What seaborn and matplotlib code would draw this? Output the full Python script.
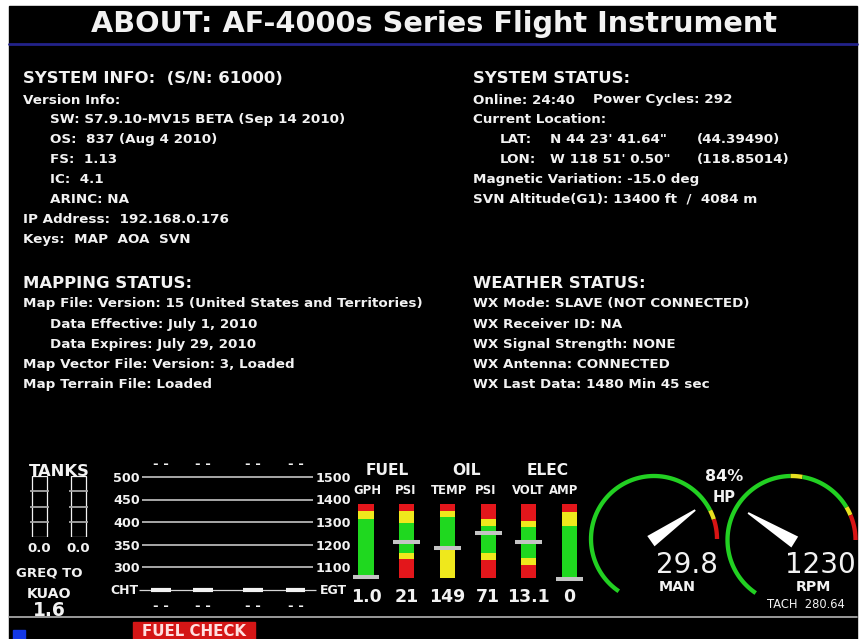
import matplotlib
matplotlib.use("Agg")
import numpy as np
import pandas as pd
import matplotlib.pyplot as plt
import seaborn as sns
from matplotlib.patches import Rectangle, Polygon

# ---------------------------------------------------------------- data
title_text = "ABOUT: AF-4000s Series Flight Instrument"

sys_info_header = "SYSTEM INFO:  (S/N: 61000)"
sys_info_lines = ["Version Info:", "SW: S7.9.10-MV15 BETA (Sep 14 2010)",
                  "OS:  837 (Aug 4 2010)", "FS:  1.13", "IC:  4.1", "ARINC: NA",
                  "IP Address:  192.168.0.176", "Keys:  MAP  AOA  SVN"]
sys_info_indent = [0, 1, 1, 1, 1, 1, 0, 0]

status_header = "SYSTEM STATUS:"
online_text = "Online: 24:40"
power_text = "Power Cycles: 292"
location_text = "Current Location:"
lat_parts = ["LAT:", "N 44 23' 41.64\"", "(44.39490)"]
lon_parts = ["LON:", "W 118 51' 0.50\"", "(118.85014)"]
status_tail = ["Magnetic Variation: -15.0 deg", "SVN Altitude(G1): 13400 ft  /  4084 m"]

mapping_header = "MAPPING STATUS:"
mapping_lines = ["Map File: Version: 15 (United States and Territories)",
                 "Data Effective: July 1, 2010", "Data Expires: July 29, 2010",
                 "Map Vector File: Version: 3, Loaded", "Map Terrain File: Loaded"]
mapping_indent = [0, 1, 1, 0, 0]

weather_header = "WEATHER STATUS:"
weather_lines = ["WX Mode: SLAVE (NOT CONNECTED)", "WX Receiver ID: NA",
                 "WX Signal Strength: NONE", "WX Antenna: CONNECTED",
                 "WX Last Data: 1480 Min 45 sec"]

# tanks
tank_ids = ["L", "R"]
tank_values = [0.0, 0.0]
tank_capacity = 1.0
tank_marks = [0.25, 0.5, 0.75]

# CHT / EGT
cht_ticks = [300, 350, 400, 450, 500]
egt_ticks = [1100, 1200, 1300, 1400, 1500]
cht_floor = 250
cht_readings = ["- -", "- -", "- -", "- -"]
egt_readings = ["- -", "- -", "- -", "- -"]

# bar gauges (zone edges in % of bar, zone kinds G/Y/R)
gauge_ids = ["GPH", "FPSI", "OTEMP", "OPSI", "VOLT", "AMP"]
gauge_labels = ["GPH", "PSI", "TEMP", "PSI", "VOLT", "AMP"]
gauge_readouts = ["1.0", "21", "149", "71", "13.1", "0"]
zone_edges_gph = [0, 80, 90, 100]
zone_kinds_gph = ["G", "Y", "R"]
zone_edges_fpsi = [0, 26, 34, 74, 90, 100]
zone_kinds_fpsi = ["R", "Y", "G", "Y", "R"]
zone_edges_otemp = [0, 42, 82, 90, 100]
zone_kinds_otemp = ["Y", "G", "Y", "R"]
zone_edges_opsi = [0, 24, 34, 70, 80, 100]
zone_kinds_opsi = ["R", "Y", "G", "Y", "R"]
zone_edges_volt = [0, 18, 27, 69, 77, 100]
zone_kinds_volt = ["R", "Y", "G", "Y", "R"]
zone_edges_amp = [0, 70, 89, 100]
zone_kinds_amp = ["G", "Y", "R"]
pointer_pos = [1, 49, 40.5, 61, 49, -1]

# dial gauges
man_range = (0, 35)
man_value = 29.8
man_zone_edges = [0, 31, 32.3, 35]
man_zone_kinds = ["G", "Y", "R"]
rpm_range = (0, 3300)
rpm_value = 1230
rpm_zone_edges = [0, 2030, 2180, 2870, 2980, 3300]
rpm_zone_kinds = ["G", "Y", "G", "Y", "R"]
hp_text = "84%"
tach_text = "TACH  280.64"

# ---------------------------------------------------------------- style
sns.set_theme(style="dark", rc={"axes.facecolor": "none", "figure.facecolor": "white"})
plt.rcParams["font.family"] = ["DejaVu Sans"]

WHITE = "#f2f2f2"
PAL = {"R": "#e3161b", "Y": "#efe81c", "G": "#1fd81f"}
ARC_PAL = {"R": "#d81414", "Y": "#e8e020", "G": "#22d022"}
W, H = 862, 639

fig = plt.figure(figsize=(W / 100, H / 100), dpi=100, facecolor="white")


def px_axes(x0, y0, x1, y1, z=2, off=True):
    ax = fig.add_axes([x0 / W, 1 - y1 / H, (x1 - x0) / W, (y1 - y0) / H], zorder=z)
    ax.set_facecolor("none")
    if off:
        ax.set_axis_off()
    return ax


bg = px_axes(0, 0, W, H, z=0)
bg.set_xlim(0, W)
bg.set_ylim(H, 0)
bg.add_patch(Rectangle((9, 6), 848, 633, color="black", zorder=0))
bg.plot([9, 857], [44, 44], color="#22228a", lw=2.0, zorder=1)
bg.plot([9, 857], [617, 617], color="#b4b4b4", lw=1.2, zorder=1)
bg.add_patch(Rectangle((13, 630), 12, 9, color="#1438e6", zorder=1))
bg.add_patch(Rectangle((133, 622), 122, 17, color="#d41616", zorder=1))

renderer = fig.canvas.get_renderer()


def fit(s, target, weight="bold"):
    t = bg.text(0, 0, s, fontsize=10, fontweight=weight)
    w = t.get_window_extent(renderer).width
    t.remove()
    return 10 * target / w


def txt(x, y, s, size, weight="bold", ha="left", va="baseline", color=WHITE, **kw):
    return bg.text(x, y, s, fontsize=size, fontweight=weight, ha=ha, va=va,
                   color=color, zorder=3, **kw)


title_fs = fit(title_text, 688, "bold")
head_fs = fit(sys_info_header, 260, "bold")
body_fs = fit(sys_info_lines[1], 294, "bold")

txt(434, 32.5, title_text, title_fs, ha="center")

# left column
txt(23, 83, sys_info_header, head_fs)
for i, (s, ind) in enumerate(zip(sys_info_lines, sys_info_indent)):
    txt(50 if ind else 23, 103.5 + 19.9 * i, s, body_fs)

txt(23, 288, mapping_header, head_fs)
for i, (s, ind) in enumerate(zip(mapping_lines, mapping_indent)):
    txt(50 if ind else 23, 307.5 + 20.1 * i, s, body_fs)

# right column
txt(473, 83, status_header, head_fs)
txt(473, 103.5, online_text, body_fs)
txt(593, 103.5, power_text, body_fs)
txt(473, 123.4, location_text, body_fs)
for row, parts in enumerate([lat_parts, lon_parts]):
    y = 143.3 + 19.9 * row
    for x, s in zip([500, 550, 697], parts):
        txt(x, y, s, body_fs)
for i, s in enumerate(status_tail):
    txt(473, 183.1 + 19.9 * i, s, body_fs)

txt(473, 288, weather_header, head_fs)
for i, s in enumerate(weather_lines):
    txt(473, 307.5 + 20.1 * i, s, body_fs)

# ---------------------------------------------------------------- tanks
txt(59, 475.5, "TANKS", 11.8, ha="center")
tax = px_axes(25.1, 476, 92.9, 537, z=2)
tdf = pd.DataFrame({"tank": tank_ids, "level": tank_values})
sns.barplot(data=tdf, x="tank", y="level", order=tank_ids, color="#1fd81f",
            saturation=1, width=0.385, errorbar=None, linewidth=0, ax=tax)
tax.bar(range(len(tank_ids)), [tank_capacity] * len(tank_ids), width=0.385,
        fill=False, edgecolor=WHITE, linewidth=0.9)
for i in range(len(tank_ids)):
    tax.hlines([tank_capacity * m for m in tank_marks], i - 0.245, i + 0.245,
               color="#a8a8a8", lw=1.3, clip_on=False)
tax.set_xlim(-0.37, 1.37)
tax.set_ylim(0, tank_capacity)
tax.set_axis_off()
for i, v in enumerate(tank_values):
    txt(39.5 + 39 * i, 551.5, f"{v:.1f}", 9.5, ha="center")
txt(49, 577, "GREQ TO", 9.5, ha="center")
txt(49, 598.5, "KUAO", 10.2, ha="center")
txt(49, 616, "1.6", 13.5, ha="center")

# ---------------------------------------------------------------- CHT / EGT
cax = px_axes(142, 459, 313, 612, z=2, off=False)
cax.set_xlim(0, 1)
cax.set_ylim(200, 540)
cax.set_yticks(cht_ticks)
cax.set_yticklabels([str(t) for t in cht_ticks])
cax.set_xticks([])
for sp in cax.spines.values():
    sp.set_visible(False)
cax.tick_params(axis="y", length=0, pad=1.5, labelsize=9.2, labelcolor=WHITE)
for lab in cax.get_yticklabels():
    lab.set_fontweight("bold")
cax2 = cax.twinx()
cax2.set_facecolor("none")
cax2.set_ylim(1100 + (200 - 300) * 2, 1100 + (540 - 300) * 2)
cax2.set_yticks(egt_ticks)
cax2.set_yticklabels([str(t) for t in egt_ticks])
for sp in cax2.spines.values():
    sp.set_visible(False)
cax2.tick_params(axis="y", length=0, pad=1.5, labelsize=9.2, labelcolor=WHITE)
for lab in cax2.get_yticklabels():
    lab.set_fontweight("bold")
cax.hlines(cht_ticks, 0, 1, color="#d6d6d6", lw=1.1)
cax.hlines(cht_floor, -0.015, 1.015, color="#d6d6d6", lw=0.9, clip_on=False)
cyl_x = np.array([0.111, 0.357, 0.649, 0.898])
cax.hlines([cht_floor] * 4, cyl_x - 0.058, cyl_x + 0.058, color=WHITE, lw=3.0)
txt(139, 594, "CHT", 9.0, ha="right")
txt(320, 594, "EGT", 9.0)
for f, s_top, s_bot in zip(cyl_x, egt_readings, cht_readings):
    xp = 142 + f * 171
    txt(xp, 465, s_top, 9.5, ha="center", va="center")
    txt(xp, 606, s_bot, 9.5, ha="center", va="center")

# ---------------------------------------------------------------- bar gauges
txt(387, 475, "FUEL", 11.2, ha="center")
txt(467, 475, "OIL", 11.2, ha="center")
txt(548, 475, "ELEC", 11.2, ha="center")
for x, s in zip([367, 406, 449, 486, 528, 564], gauge_labels):
    txt(x, 494.5, s, 8.4, ha="center")

zones = {
    "GPH": (zone_edges_gph, zone_kinds_gph),
    "FPSI": (zone_edges_fpsi, zone_kinds_fpsi),
    "OTEMP": (zone_edges_otemp, zone_kinds_otemp),
    "OPSI": (zone_edges_opsi, zone_kinds_opsi),
    "VOLT": (zone_edges_volt, zone_kinds_volt),
    "AMP": (zone_edges_amp, zone_kinds_amp),
}
step = 40.7
bx0 = 366 - 0.5 * step
bax = px_axes(bx0, 504 - 8 * 0.74, bx0 + 6 * step, 578 + 8 * 0.74, z=2)
for gid in gauge_ids:
    edges, kinds = zones[gid]
    for k in range(len(kinds) - 1, -1, -1):
        sns.barplot(x=[gid], y=[edges[k + 1]], order=gauge_ids, color=PAL[kinds[k]],
                    saturation=1, width=0.37, errorbar=None, linewidth=0, ax=bax)
xs = np.arange(len(gauge_ids))
bax.hlines(pointer_pos, xs - 0.33, xs + 0.33, color="#c4c4c4", lw=2.9, clip_on=False)
bax.set_xlim(-0.5, len(gauge_ids) - 0.5)
bax.set_ylim(-8, 108)
bax.set_axis_off()
for i, s in enumerate(gauge_readouts):
    txt(366 + i * step, 601.5, s, 12.5, ha="center")


# ---------------------------------------------------------------- dials
START, SWEEP = 236.0, 236.0


def dial(cx, cy, r_px, vrange, edges, kinds, value):
    half = 1.3
    ax = px_axes(cx - half * r_px, cy - half * r_px, cx + half * r_px, cy + half * r_px, z=3)
    ax.set_xlim(-half, half)
    ax.set_ylim(-half, half)

    def ang(v):
        return np.deg2rad(START - (v - vrange[0]) / (vrange[1] - vrange[0]) * SWEEP)

    for lo, hi, k in zip(edges[:-1], edges[1:], kinds):
        t = np.linspace(ang(lo), ang(hi), 80)
        ax.plot(np.cos(t), np.sin(t), color=ARC_PAL[k], lw=3.1, solid_capstyle="butt")
    a = ang(value)
    u = np.array([np.cos(a), np.sin(a)])
    n = np.array([-np.sin(a), np.cos(a)])
    pts = [-0.06 * u + 0.10 * n, 0.80 * u + 0.014 * n, 0.80 * u - 0.014 * n,
           -0.06 * u - 0.10 * n]
    ax.add_patch(Polygon(pts, closed=True, facecolor="white", edgecolor="none"))
    return ax


dial(654, 539, 63, man_range, man_zone_edges, man_zone_kinds, man_value)
dial(791.5, 540, 64, rpm_range, rpm_zone_edges, rpm_zone_kinds, rpm_value)

txt(724, 481, hp_text, 11.5, ha="center")
txt(724, 502.5, "HP", 10.5, ha="center")
txt(687, 573, f"{man_value:.1f}", 20, weight="normal", ha="center")
txt(677, 591, "MAN", 10.3, ha="center")
txt(820, 573, f"{rpm_value}", 20, weight="normal", ha="center")
txt(813, 591, "RPM", 10.3, ha="center")
txt(806, 608.5, tach_text, 8.3, weight="normal", ha="center")

txt(194, 631, "FUEL CHECK", 10.8, ha="center", va="center", color="#ffe0e0")

fig.savefig("out.png", dpi=100, facecolor="white")
